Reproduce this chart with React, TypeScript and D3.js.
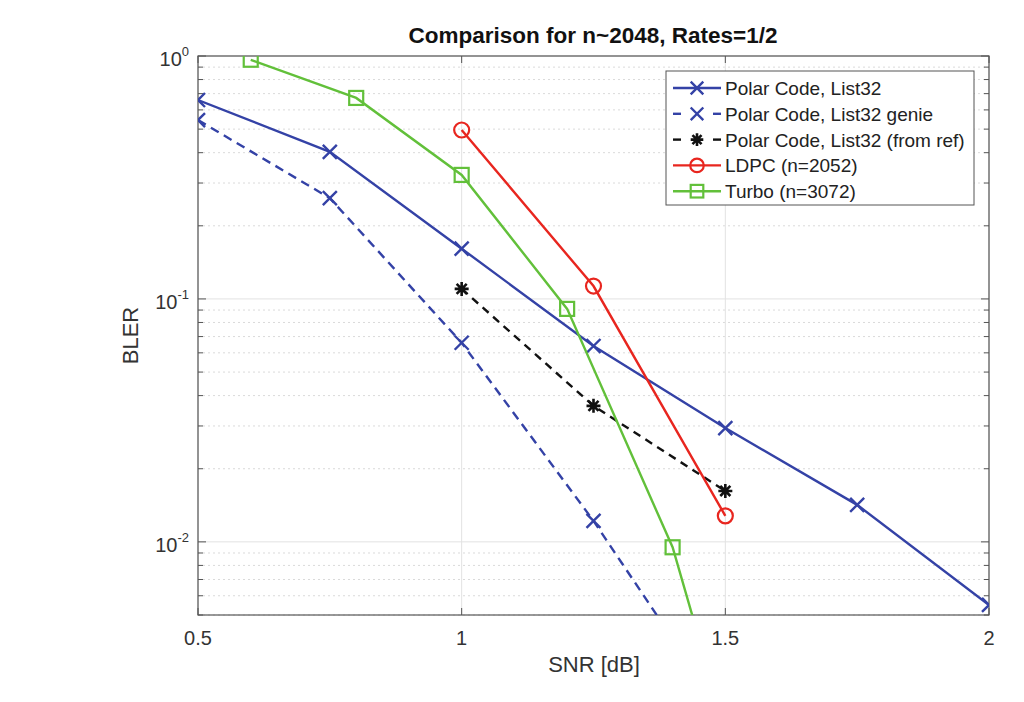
import React from "react";
import * as d3 from "d3";

const snrTicks = [0.5, 1, 1.5, 2];
const polarX = [0.5, 0.75, 1, 1.25, 1.5, 1.75, 2];
const polarY = [0.659, 0.403, 0.161, 0.064, 0.0294, 0.0142, 0.0055];
const genieX = [0.5, 0.75, 1, 1.25, 1.5];
const genieY = [0.545, 0.26, 0.066, 0.0122, 0.0019];
const refX = [1, 1.25, 1.5];
const refY = [0.11, 0.0363, 0.0162];
const ldpcX = [1, 1.25, 1.5];
const ldpcY = [0.496, 0.113, 0.0128];
const turboX = [0.6, 0.8, 1, 1.2, 1.4, 1.6];
const turboY = [0.965, 0.672, 0.324, 0.091, 0.0095, 0.0003];
const seriesNames = [
  "Polar Code, List32",
  "Polar Code, List32 genie",
  "Polar Code, List32 (from ref)",
  "LDPC (n=2052)",
  "Turbo (n=3072)",
];

const BLUE = "#3442a6";
const RED = "#e8261f";
const GREEN = "#62c03a";
const BLACK = "#111";

const L = 198, R = 989, T = 56, B = 615;
const x = d3.scaleLinear().domain([0.5, 2]).range([L, R]);
const y = d3.scaleLog().domain([0.005, 1]).range([B, T]);

type Marker = "x" | "star" | "circle" | "square";

function MarkerShape({ cx, cy, type, color, k = 1 }: { cx: number; cy: number; type: Marker; color: string; k?: number }) {
  if (type === "x") {
    const s = 7 * k;
    return (
      <path d={`M${cx - s},${cy - s}L${cx + s},${cy + s}M${cx - s},${cy + s}L${cx + s},${cy - s}`} stroke={color} strokeWidth={2.4} fill="none" />
    );
  }
  if (type === "star") {
    const s = 7 * k;
    const d = s * 0.72;
    return (
      <path
        d={`M${cx - s},${cy}L${cx + s},${cy}M${cx},${cy - s}L${cx},${cy + s}M${cx - d},${cy - d}L${cx + d},${cy + d}M${cx - d},${cy + d}L${cx + d},${cy - d}`}
        stroke={color}
        strokeWidth={2.6}
        fill="none"
      />
    );
  }
  if (type === "circle") {
    return <circle cx={cx} cy={cy} r={7.5 * k} stroke={color} strokeWidth={2.2} fill="none" />;
  }
  const h = 7 * k;
  return <rect x={cx - h} y={cy - h} width={2 * h} height={2 * h} stroke={color} strokeWidth={2.2} fill="none" />;
}

interface Series {
  xs: number[];
  ys: number[];
  color: string;
  dash?: string;
  marker: Marker;
  name: string;
}

const series: Series[] = [
  { xs: polarX, ys: polarY, color: BLUE, marker: "x", name: seriesNames[0] },
  { xs: genieX, ys: genieY, color: BLUE, dash: "9,6", marker: "x", name: seriesNames[1] },
  { xs: refX, ys: refY, color: BLACK, dash: "8,6", marker: "star", name: seriesNames[2] },
  { xs: ldpcX, ys: ldpcY, color: RED, marker: "circle", name: seriesNames[3] },
  { xs: turboX, ys: turboY, color: GREEN, marker: "square", name: seriesNames[4] },
];

export default function App() {
  const line = d3
    .line<[number, number]>()
    .x((d) => x(d[0]))
    .y((d) => y(d[1]));

  const majorY = [0.01, 0.1, 1];
  const minorY: number[] = [];
  for (const dec of [0.001, 0.01, 0.1]) {
    for (let k = 2; k <= 9; k++) {
      const v = k * dec;
      if (v >= 0.005 && v < 1) minorY.push(v);
    }
  }
  const yLabels = [
    { v: 1, e: "0" },
    { v: 0.1, e: "-1" },
    { v: 0.01, e: "-2" },
  ];
  const font = "'Liberation Sans', Arial, sans-serif";

  const legX = 666, legY = 71, legW = 308, legH = 134;
  const rowH = 25.8;

  return (
    <svg width={1024} height={702} style={{ position: "absolute", left: 0, top: 0 }} fontFamily={font}>
      <rect x={0} y={0} width={1024} height={702} fill="#fff" />
      <defs>
        <clipPath id="plotclip">
          <rect x={L} y={T} width={R - L} height={B - T} />
        </clipPath>
      </defs>
      {/* grid */}
      {minorY.map((v) => (
        <line key={"mg" + v} x1={L} x2={R} y1={y(v)} y2={y(v)} stroke="#dadada" strokeWidth={1} strokeDasharray="2,3" />
      ))}
      {majorY.map((v) => (
        <line key={"Mg" + v} x1={L} x2={R} y1={y(v)} y2={y(v)} stroke="#e2e2e2" strokeWidth={1} />
      ))}
      {snrTicks.map((v) => (
        <line key={"xg" + v} x1={x(v)} x2={x(v)} y1={T} y2={B} stroke="#e2e2e2" strokeWidth={1} />
      ))}
      {/* box */}
      <rect x={L} y={T} width={R - L} height={B - T} fill="none" stroke="#555" strokeWidth={1.2} />
      {/* ticks */}
      {snrTicks.map((v) => (
        <g key={"xt" + v}>
          <line x1={x(v)} x2={x(v)} y1={B} y2={B - 7} stroke="#555" />
          <line x1={x(v)} x2={x(v)} y1={T} y2={T + 7} stroke="#555" />
          <text x={x(v)} y={B + 30} textAnchor="middle" fontSize={20} fill="#333">
            {v}
          </text>
        </g>
      ))}
      {majorY.map((v) => (
        <g key={"yt" + v}>
          <line x1={L} x2={L + 8} y1={y(v)} y2={y(v)} stroke="#555" />
          <line x1={R} x2={R - 8} y1={y(v)} y2={y(v)} stroke="#555" />
        </g>
      ))}
      {minorY.map((v) => (
        <g key={"ymt" + v}>
          <line x1={L} x2={L + 5} y1={y(v)} y2={y(v)} stroke="#555" />
          <line x1={R} x2={R - 5} y1={y(v)} y2={y(v)} stroke="#555" />
        </g>
      ))}
      {yLabels.map((l) => (
        <text key={"yl" + l.v} x={L - 9} y={y(l.v) + 10} textAnchor="end" fontSize={20} fill="#333">
          10
          <tspan dy={-10} fontSize={13}>
            {l.e}
          </tspan>
        </text>
      ))}
      {/* axis labels */}
      <text x={594} y={672} textAnchor="middle" fontSize={22} fill="#333">
        SNR [dB]
      </text>
      <text transform={`translate(138,${(T + B) / 2}) rotate(-90)`} textAnchor="middle" fontSize={22} fill="#333">
        BLER
      </text>
      <text x={593} y={43} textAnchor="middle" fontSize={22.5} fontWeight="bold" fill="#111">
        Comparison for n~2048, Rates=1/2
      </text>
      {/* series */}
      <g clipPath="url(#plotclip)">
        {series.map((s, i) => {
          const pts = s.xs.map((xv, j) => [xv, s.ys[j]] as [number, number]);
          return (
            <g key={"s" + i}>
              <path d={line(pts) || ""} stroke={s.color} strokeWidth={2.4} fill="none" strokeDasharray={s.dash} />
              {pts.map((p, j) => (
                <MarkerShape key={j} cx={x(p[0])} cy={y(p[1])} type={s.marker} color={s.color} />
              ))}
            </g>
          );
        })}
      </g>
      {/* legend */}
      <rect x={legX} y={legY} width={legW} height={legH} fill="#fff" stroke="#555" strokeWidth={1} />
      {series.map((s, i) => {
        const cy = legY + 17 + i * rowH;
        const x1 = legX + 7, x2 = legX + 55;
        return (
          <g key={"lg" + i}>
            {s.dash ? (
              <g>
                <line x1={x1} x2={x1 + 8} y1={cy} y2={cy} stroke={s.color} strokeWidth={2.4} />
                <line x1={x2 - 8} x2={x2} y1={cy} y2={cy} stroke={s.color} strokeWidth={2.4} />
              </g>
            ) : (
              <line x1={x1} x2={x2} y1={cy} y2={cy} stroke={s.color} strokeWidth={2.4} />
            )}
            <MarkerShape cx={(x1 + x2) / 2} cy={cy} type={s.marker} color={s.color} k={0.9} />
            <text x={x2 + 4} y={cy + 7} fontSize={19} fill="#222">
              {s.name}
            </text>
          </g>
        );
      })}
    </svg>
  );
}
